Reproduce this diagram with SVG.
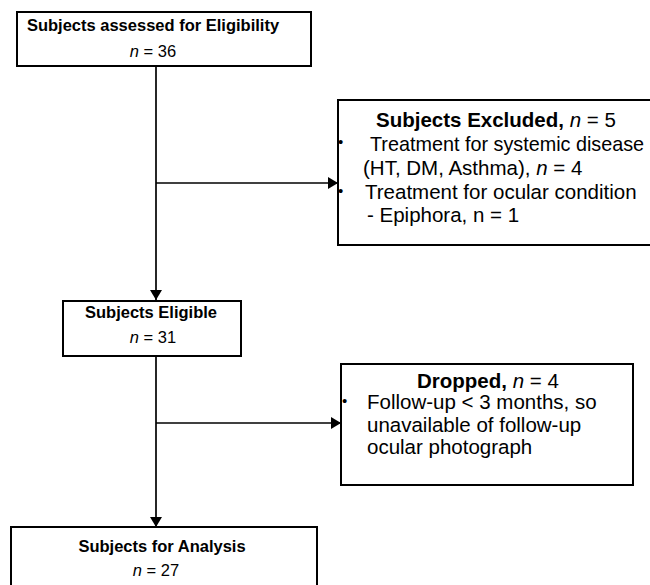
<svg xmlns="http://www.w3.org/2000/svg" width="650" height="585" viewBox="0 0 650 585">
<defs>
<marker id="arr" viewBox="0 0 10 12" refX="10" refY="6" markerWidth="11" markerHeight="12" markerUnits="userSpaceOnUse" orient="auto">
<path d="M0,0 L10,6 L0,12 Z" fill="#000"/>
</marker>
<style>
.box{fill:#fff;stroke:#000;stroke-width:2}
.t{font-family:"Liberation Sans",Arial,sans-serif;fill:#000}
.b{font-weight:bold}
.s{font-size:16.5px}
.l{font-size:20.5px}
.c{text-anchor:middle}
.bu{font-size:15px}
.ln{stroke:#000;stroke-width:1.7;fill:none}
</style>
</defs>
<rect width="650" height="585" fill="#fff"/>
<g id="connectors">
<line class="ln" x1="156" y1="66" x2="156" y2="300" marker-end="url(#arr)"/>
<line class="ln" x1="156" y1="183" x2="338" y2="183" marker-end="url(#arr)"/>
<line class="ln" x1="156" y1="356" x2="156" y2="527" marker-end="url(#arr)"/>
<line class="ln" x1="156" y1="423" x2="341" y2="423" marker-end="url(#arr)"/>
</g>
<g id="assessed">
<rect class="box" x="17" y="12" width="294" height="54"/>
<text class="t b s c" x="153" y="31">Subjects assessed for Eligibility</text>
<text class="t s c" x="153" y="57"><tspan font-style="italic">n</tspan> = 36</text>
</g>
<g id="excluded">
<rect class="box" x="338" y="100" width="330" height="145"/>
<text class="t l" x="376" y="127"><tspan class="b">Subjects Excluded,</tspan>  <tspan font-style="italic">n</tspan> = 5</text>
<text class="t bu" x="338" y="147">•</text>
<text class="t" x="370" y="151" font-size="19.8">Treatment for systemic disease</text>
<text class="t l" x="363" y="175">(HT, DM, Asthma), <tspan font-style="italic">n</tspan> = 4</text>
<text class="t bu" x="338" y="196">•</text>
<text class="t l" x="365" y="199">Treatment for ocular condition</text>
<text class="t l" x="367" y="222">- Epiphora, n = 1</text>
</g>
<g id="eligible">
<rect class="box" x="63" y="301" width="178" height="55"/>
<text class="t b s c" x="151" y="318">Subjects Eligible</text>
<text class="t s c" x="153" y="343"><tspan font-style="italic">n</tspan> = 31</text>
</g>
<g id="dropped">
<rect class="box" x="341" y="364" width="292" height="121"/>
<text class="t l" x="417" y="388"><tspan class="b">Dropped,</tspan> <tspan font-style="italic">n</tspan> = 4</text>
<text class="t bu" x="342" y="406">•</text>
<text class="t l" x="367" y="409">Follow-up &lt; 3 months, so</text>
<text class="t l" x="367" y="432">unavailable of follow-up</text>
<text class="t l" x="367" y="454">ocular photograph</text>
</g>
<g id="analysis">
<rect class="box" x="11" y="527" width="306" height="70"/>
<text class="t b s c" x="162" y="552">Subjects for Analysis</text>
<text class="t s c" x="156" y="576"><tspan font-style="italic">n</tspan> = 27</text>
</g>
</svg>
